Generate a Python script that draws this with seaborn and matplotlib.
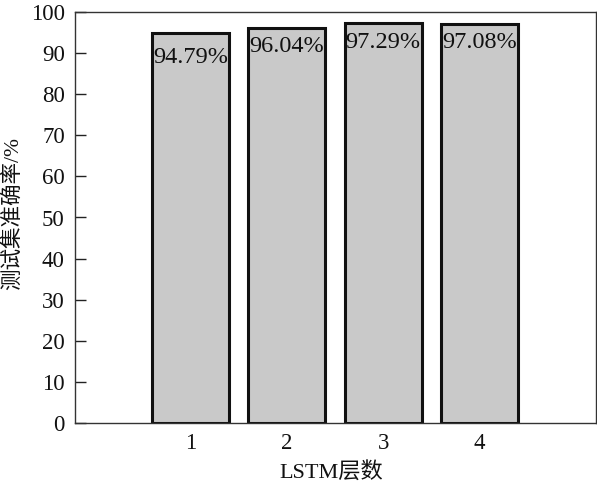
import matplotlib
matplotlib.use("Agg")
import matplotlib.pyplot as plt
import seaborn as sns
import pandas as pd

categories = ["1", "2", "3", "4"]
accuracy = [94.79, 96.04, 97.29, 97.08]
label_texts = ["94.79%", "96.04%", "97.29%", "97.08%"]
label_drop = [3.4, 1.8, 2.1, 2.0]
y_ticks = [0, 10, 20, 30, 40, 50, 60, 70, 80, 90, 100]

sns.set_theme(style="white")
fonts = ["Liberation Serif", "Noto Sans CJK SC", "DejaVu Sans"]
plt.rcParams["font.family"] = fonts

df = pd.DataFrame({"layers": categories, "acc": accuracy})

W, H = 597, 487
fig = plt.figure(figsize=(W / 100, H / 100), dpi=100)
ax = fig.add_axes([74.5 / W, (H - 423) / H, (595.5 - 74.5) / W, (423 - 12) / H])

sns.barplot(data=df, x="layers", y="acc", ax=ax, color="#c9c9c9",
            saturation=1, width=0.8, edgecolor="#111111", linewidth=2.2)

for i, (v, t, d) in enumerate(zip(accuracy, label_texts, label_drop)):
    ax.text(i, v - d, t, ha="center", va="top", fontsize=17.5, color="#111111")

ax.set_xlim(-1.2, 4.2)
ax.set_ylim(0, 100)
ax.set_yticks(y_ticks)
ax.tick_params(axis="both", direction="in", length=8, width=1, color="#222222",
               labelsize=16.5, labelcolor="#111111", pad=7)
ax.tick_params(axis="both", which="both", top=False, right=False, bottom=True, left=True)
for s in ax.spines.values():
    s.set_color("#333333")
    s.set_linewidth(1.0)
    s.set_visible(True)

ax.set_xlabel("LSTM层数", fontsize=16, color="#111111")
ax.xaxis.set_label_coords((331 - 74.5) / 521, -(478 - 423) / 411)
ax.xaxis.label.set_va("baseline")
ax.set_ylabel("测试集准确率/%", fontsize=15.5, color="#111111")
ax.yaxis.set_label_coords(-(74.5 - 23) / 521, (423 - 213.5) / 411)

fig.savefig("out.png", dpi=100)
